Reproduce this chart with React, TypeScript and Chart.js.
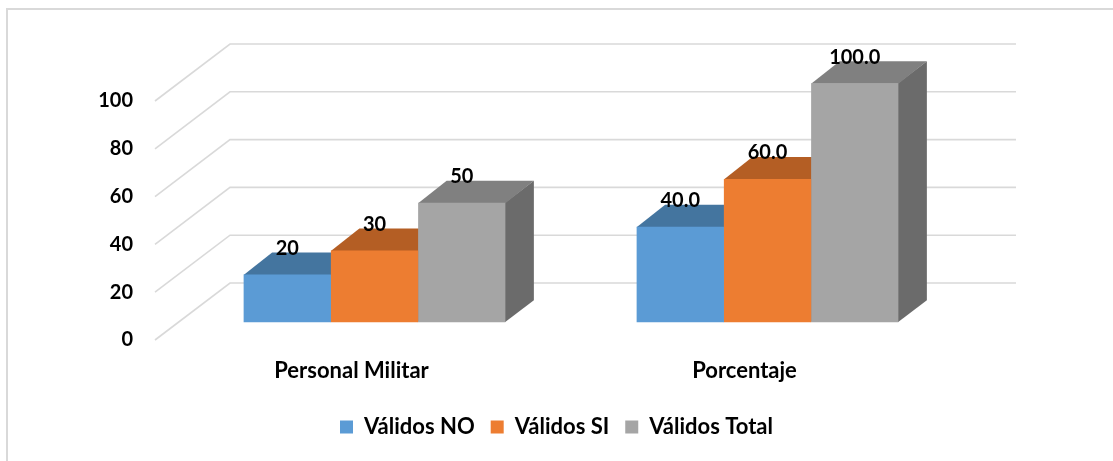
import React, { useEffect, useRef } from 'react';
import { Chart, registerables } from 'chart.js';

Chart.register(...registerables);

const categories = ['Personal Militar', 'Porcentaje'];
const seriesNames = ['Válidos NO', 'Válidos SI', 'Válidos Total'];
const validosNO = [20, 40];
const validosSI = [30, 60];
const validosTotal = [50, 100];
const labelDecimals = [0, 1];
const yTicks = [0, 20, 40, 60, 80, 100];

const frontColors = ['#5B9BD5', '#ED7D31', '#A5A5A5'];
const topColors = ['#44759F', '#B45E24', '#808080'];
const sideColors = ['#3E6A93', '#A65620', '#6B6B6B'];

const FONT = 'Lato, Carlito, Calibri, sans-serif';
const WALL_DX = 75;
const WALL_DY = -57;
const BAR_DX = 23;
const BAR_DY = -17.7;
const DEPTH_DX = 28.5;
const DEPTH_DY = -22;

const threeD = {
  id: 'threeD',
  beforeDraw(chart: any) {
    const ctx = chart.ctx;
    ctx.save();
    ctx.fillStyle = '#FFFFFF';
    ctx.fillRect(0, 0, chart.width, chart.height);
    ctx.fillStyle = '#D9D9D9';
    ctx.fillRect(6, 8, chart.width, 2);
    ctx.fillRect(6, 8, 2, chart.height);
    ctx.restore();
  },
  beforeDatasetsDraw(chart: any) {
    const { ctx, chartArea } = chart;
    const ys = chart.scales.y;
    ctx.save();
    ctx.strokeStyle = '#D9D9D9';
    ctx.lineWidth = 1.6;
    yTicks.forEach((v) => {
      const py = ys.getPixelForValue(v);
      ctx.beginPath();
      ctx.moveTo(chartArea.left, py);
      ctx.lineTo(chartArea.left + WALL_DX, py + WALL_DY);
      ctx.lineTo(chartArea.right + WALL_DX, py + WALL_DY);
      ctx.stroke();
    });
    ctx.restore();

    ctx.save();
    ctx.translate(BAR_DX, BAR_DY);
    chart.data.datasets.forEach((_ds: any, i: number) => {
      const meta = chart.getDatasetMeta(i);
      meta.data.forEach((bar: any) => {
        const { x, y, base, width } = bar.getProps(['x', 'y', 'base', 'width'], true);
        const l = x - width / 2;
        const r = x + width / 2;
        ctx.fillStyle = sideColors[i];
        ctx.beginPath();
        ctx.moveTo(r - 0.5, y);
        ctx.lineTo(r + DEPTH_DX, y + DEPTH_DY);
        ctx.lineTo(r + DEPTH_DX, base + DEPTH_DY);
        ctx.lineTo(r - 0.5, base);
        ctx.closePath();
        ctx.fill();
        ctx.fillStyle = topColors[i];
        ctx.beginPath();
        ctx.moveTo(l, y + 0.5);
        ctx.lineTo(l + DEPTH_DX, y + DEPTH_DY);
        ctx.lineTo(r + DEPTH_DX, y + DEPTH_DY);
        ctx.lineTo(r, y + 0.5);
        ctx.closePath();
        ctx.fill();
      });
    });
  },
  afterDatasetsDraw(chart: any) {
    const ctx = chart.ctx;
    ctx.fillStyle = '#000000';
    ctx.font = `bold 20px ${FONT}`;
    ctx.textAlign = 'center';
    ctx.textBaseline = 'middle';
    chart.data.datasets.forEach((ds: any, i: number) => {
      const meta = chart.getDatasetMeta(i);
      meta.data.forEach((bar: any, j: number) => {
        const { x, y } = bar.getProps(['x', 'y'], true);
        const txt = Number(ds.data[j]).toFixed(labelDecimals[j]);
        ctx.fillText(txt, x, y - 26);
      });
    });
    ctx.restore();
  },
};

export default function App() {
  const canvasRef = useRef<HTMLCanvasElement | null>(null);

  useEffect(() => {
    if (!canvasRef.current) return;
    const seriesValues = [validosNO, validosSI, validosTotal];
    const tickFont = { family: FONT, size: 20, weight: 'bold' as const };
    const textFont = { family: FONT, size: 22, weight: 'bold' as const };
    const chart = new Chart(canvasRef.current, {
      type: 'bar',
      data: {
        labels: categories,
        datasets: seriesNames.map((name, i) => ({
          label: name,
          data: seriesValues[i],
          backgroundColor: frontColors[i],
          borderWidth: 0,
          barPercentage: 1,
          categoryPercentage: 0.666,
          clip: false as any,
        })),
      },
      options: {
        responsive: false,
        animation: false,
        devicePixelRatio: 1,
        layout: { padding: { top: 101, bottom: 13, left: 0, right: 0 } },
        scales: {
          x: {
            type: 'category',
            offset: true,
            grid: { display: false, drawTicks: false },
            border: { display: false },
            ticks: { font: textFont, color: '#000000', padding: 18, maxRotation: 0 },
            afterFit: (s: any) => {
              s.height = 60;
            },
          },
          y: {
            type: 'linear',
            min: 0,
            max: 100,
            grid: { display: false, drawTicks: false },
            border: { display: false },
            ticks: { stepSize: 20, font: tickFont, color: '#000000', padding: 22 },
            afterFit: (s: any) => {
              s.width = 155;
            },
          },
          y2: {
            type: 'linear',
            position: 'right',
            display: true,
            grid: { display: false, drawTicks: false },
            border: { display: false },
            ticks: { display: false },
            afterFit: (s: any) => {
              s.width = 172;
            },
          },
        },
        plugins: {
          legend: {
            position: 'bottom',
            labels: {
              boxWidth: 13,
              boxHeight: 13,
              padding: 16,
              font: textFont,
              color: '#000000',
            },
          },
          tooltip: { enabled: false },
        },
      },
      plugins: [threeD],
    });
    return () => chart.destroy();
  }, []);

  return (
    <div style={{ position: 'absolute', left: 0, top: 0, width: 1113, height: 461 }}>
      <canvas ref={canvasRef} width={1113} height={461} style={{ display: 'block' }} />
    </div>
  );
}
